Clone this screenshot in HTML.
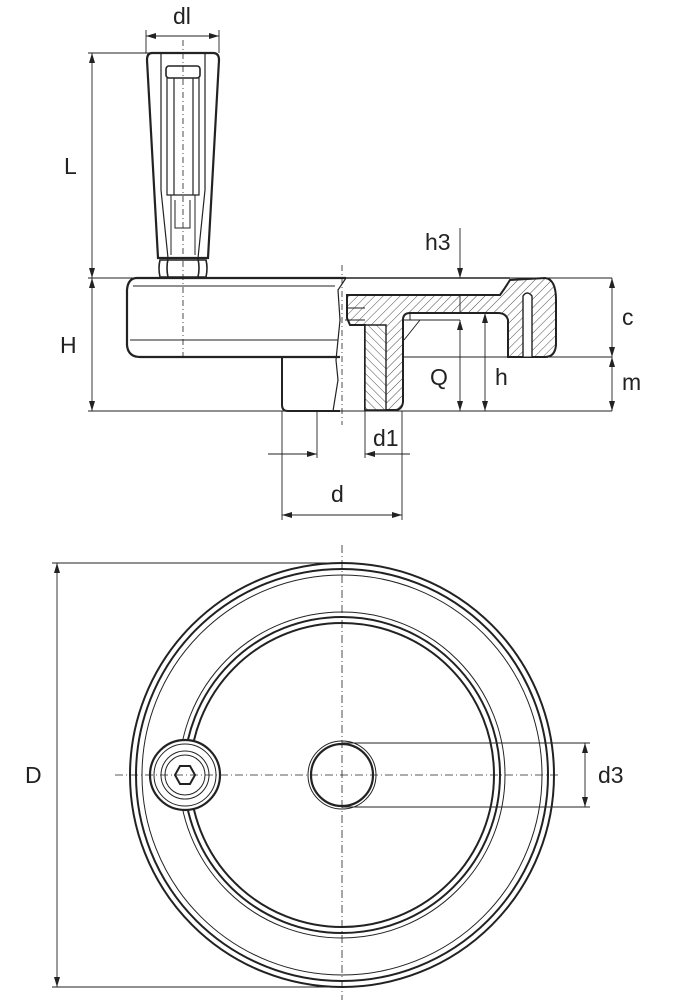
<!DOCTYPE html>
<html><head><meta charset="utf-8"><style>
html,body{margin:0;padding:0;background:#fff;}
svg{display:block;}
text{font-family:"Liberation Sans",sans-serif;font-size:23px;fill:#222;}
</style></head><body>
<svg width="692" height="1007" viewBox="0 0 692 1007" xmlns="http://www.w3.org/2000/svg">
<defs>
<pattern id="h" width="6" height="6" patternUnits="userSpaceOnUse" patternTransform="rotate(45)"><line x1="0" y1="0" x2="0" y2="6" stroke="#222" stroke-width="0.8"/></pattern>
<pattern id="h2" width="6" height="6" patternUnits="userSpaceOnUse" patternTransform="rotate(-45)"><line x1="0" y1="0" x2="0" y2="6" stroke="#222" stroke-width="0.8"/></pattern>
<marker id="a" viewBox="0 0 10 6" refX="10" refY="3" markerWidth="10" markerHeight="6" orient="auto-start-reverse" markerUnits="userSpaceOnUse"><path d="M0,0 L10,3 L0,6 z" fill="#222"/></marker>
</defs>
<g fill="none" stroke="#222">
<!-- handle -->
<path d="M152,53 H213 Q219,53 219,60 L208,258 H158 L147,60 Q147,53 152,53 Z" stroke-width="2.2"/>
<path d="M161,54 V190 L168,258 M205,54 V190 L198,258" stroke-width="1.2"/>
<rect x="166" y="66" width="34" height="12" rx="3" stroke-width="1.6"/>
<path d="M167,78 V195 H199 V78 M174,78 V195 M193,78 V195" stroke-width="1.2"/>
<path d="M171,195 V255 M195,195 V255 M175,200 V228 H190 V200" stroke-width="1"/>
<path d="M160,260 Q158,268 160,277 H206 Q208,268 206,260 Z M168,259 Q166,268 168,277 M198,259 Q200,268 198,277" stroke-width="1.6"/>
<line x1="183" y1="40" x2="183" y2="360" stroke-width="0.8" stroke-dasharray="6,3,1,3"/>
<!-- wheel body left -->
<path d="M346,278 H137 Q128,278 127,290 V345 Q128,357 140,357 H340" stroke-width="2.2"/>
<path d="M133,286 H335 M130,340 H338" stroke-width="0.9"/>
<path d="M282,357 V405 Q282,411 288,411 H340" stroke-width="2"/>
<path d="M346,278 L338,290 L340,320 L336,360 L338,380 L333,411" stroke-width="1.2"/>
<line x1="342" y1="265" x2="342" y2="425" stroke-width="0.8" stroke-dasharray="6,3,1,3"/>
<!-- section -->
<path d="M347,295 H500 Q505,288 510,280 L545,278 Q556,279 556,300 L556,345 Q555,357 545,357 H508 V320 Q506,313 498,313 H410 Q403,313 403,320 V402 Q402,410 395,410 H365 V325 H350 L347,318 Z" fill="url(#h)" stroke-width="2"/>
<path d="M365,325 V410 H386 V325 Z" fill="#fff" stroke="none"/>
<path d="M365,325 V410 H386 V325 Z" fill="url(#h2)" stroke-width="1.4"/>
<path d="M523,357 V296 Q527,290 532,296 V357" fill="#fff" stroke-width="1.4"/>
<path d="M346,278 H510 M500,295 H346" stroke-width="1.4"/>
<path d="M404,340 L420,320 M410,313 V320" stroke-width="1"/>
<path d="M347,308 H365 M345,320 H365" stroke-width="1"/>
<line x1="402" y1="357" x2="612" y2="357" stroke-width="0.9"/>
<line x1="403" y1="320" x2="460" y2="320" stroke-width="0.9"/>
<!-- dimension lines -->
<g stroke-width="0.9">
<line x1="146" y1="30" x2="146" y2="53"/><line x1="219" y1="30" x2="219" y2="53"/>
<line x1="146" y1="36" x2="219" y2="36" marker-start="url(#a)" marker-end="url(#a)"/>
<line x1="88" y1="53" x2="150" y2="53"/>
<line x1="92" y1="53" x2="92" y2="278" marker-start="url(#a)" marker-end="url(#a)"/>
<line x1="88" y1="278" x2="612" y2="278"/>
<line x1="92" y1="278" x2="92" y2="411" marker-start="url(#a)" marker-end="url(#a)"/>
<line x1="88" y1="411" x2="612" y2="411"/>
<line x1="460" y1="228" x2="460" y2="278" marker-end="url(#a)"/>
<line x1="460" y1="295" x2="460" y2="313"/>
<line x1="460" y1="320" x2="460" y2="411" marker-start="url(#a)" marker-end="url(#a)"/>
<line x1="485" y1="313" x2="485" y2="411" marker-start="url(#a)" marker-end="url(#a)"/>
<line x1="612" y1="278" x2="612" y2="357" marker-start="url(#a)" marker-end="url(#a)"/>
<line x1="612" y1="357" x2="612" y2="411" marker-start="url(#a)" marker-end="url(#a)"/>
<line x1="317" y1="411" x2="317" y2="458"/><line x1="365" y1="411" x2="365" y2="458"/>
<line x1="268" y1="454" x2="317" y2="454" marker-end="url(#a)"/>
<line x1="410" y1="454" x2="365" y2="454" marker-end="url(#a)"/>
<line x1="282" y1="411" x2="282" y2="520"/><line x1="402" y1="411" x2="402" y2="520"/>
<line x1="282" y1="515" x2="402" y2="515" marker-start="url(#a)" marker-end="url(#a)"/>
</g>
<!-- bottom view -->
<g stroke-width="2">
<circle cx="342" cy="775" r="212"/>
<circle cx="342" cy="775" r="206"/>
<circle cx="342" cy="775" r="158"/>
<circle cx="342" cy="775" r="152"/>
</g>
<g stroke-width="1">
<circle cx="342" cy="775" r="200"/>
<circle cx="342" cy="775" r="163"/>
<circle cx="342" cy="775" r="34"/>
</g>
<circle cx="342" cy="775" r="31" stroke-width="2.2"/>
<circle cx="185" cy="775" r="35" fill="#fff" stroke-width="2.2"/>
<circle cx="185" cy="775" r="31" stroke-width="1"/>
<circle cx="185" cy="775" r="24" stroke-width="1"/>
<circle cx="185" cy="775" r="20" stroke-width="1"/>
<polygon points="175,775 180,766 190,766 195,775 190,784 180,784" stroke-width="2"/>
<line x1="115" y1="775" x2="560" y2="775" stroke-width="0.8" stroke-dasharray="8,3,1,3"/>
<line x1="342" y1="545" x2="342" y2="1000" stroke-width="0.8" stroke-dasharray="8,3,1,3"/>
<g stroke-width="0.9">
<line x1="52" y1="563" x2="342" y2="563"/><line x1="52" y1="987" x2="342" y2="987"/>
<line x1="57" y1="563" x2="57" y2="987" marker-start="url(#a)" marker-end="url(#a)"/>
<line x1="342" y1="743" x2="590" y2="743"/><line x1="342" y1="807" x2="590" y2="807"/>
<line x1="585" y1="743" x2="585" y2="807" marker-start="url(#a)" marker-end="url(#a)"/>
</g>
</g>
<text x="173" y="24">dl</text>
<text x="64" y="174">L</text>
<text x="60" y="353">H</text>
<text x="425" y="250">h3</text>
<text x="430" y="385">Q</text>
<text x="495" y="385">h</text>
<text x="622" y="325">c</text>
<text x="622" y="390">m</text>
<text x="373" y="446">d1</text>
<text x="331" y="502">d</text>
<text x="25" y="783">D</text>
<text x="598" y="783">d3</text>
</svg>
</body></html>
